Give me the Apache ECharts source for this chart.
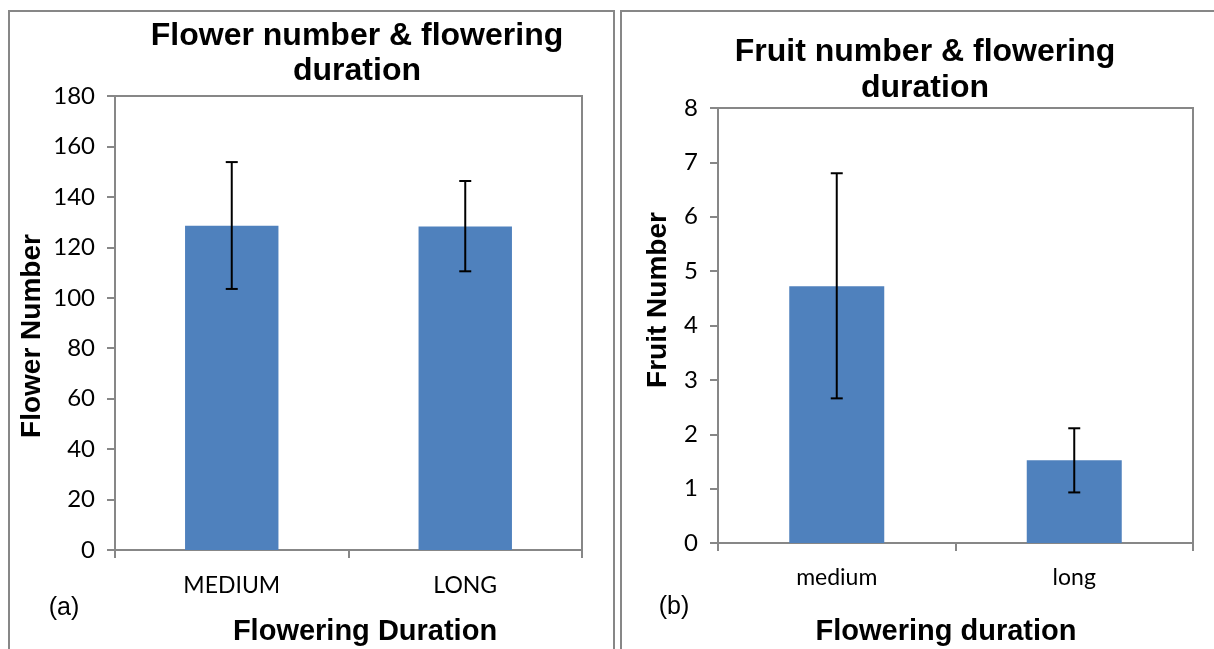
<!DOCTYPE html>
<html>
<head>
<meta charset="utf-8">
<script src="https://cdn.jsdelivr.net/npm/echarts@6/dist/echarts.min.js"></script>
<style>html,body{margin:0;padding:0;background:#fff}#c{width:1214px;height:649px}</style>
</head>
<body>
<div id="c"></div>
<script>
// ---- data ----
const flowerCategories = ['MEDIUM', 'LONG'];
const flowerMeans = [128.6, 128.3];
const flowerErrLow = [103.5, 110.5];
const flowerErrHigh = [153.8, 146.3];
const flowerTicks = { min: 0, max: 180, interval: 20 };

const fruitCategories = ['medium', 'long'];
const fruitMeans = [4.72, 1.52];
const fruitErrLow = [2.66, 0.93];
const fruitErrHigh = [6.80, 2.11];
const fruitTicks = { min: 0, max: 8, interval: 1 };

const titles = ['Flower number & flowering\nduration', 'Fruit number & flowering\nduration'];
const yNames = ['Flower Number', 'Fruit Number'];
const xNames = ['Flowering Duration', 'Flowering duration'];
const panelLabels = ['(a)', '(b)'];

// ---- styles ----
const AX = '#878787';
const BAR = '#4F81BD';
const TICK_FONT = 'Lato';
const BOLD_FONT = '"Liberation Sans", Arial, sans-serif';

function errSeries(gridIdx, low, high) {
  return {
    type: 'custom',
    xAxisIndex: gridIdx, yAxisIndex: gridIdx,
    silent: true,
    z: 5,
    data: low.map((l, i) => [i, l, high[i]]),
    renderItem: function (params, api) {
      const x = api.value(0);
      const lo = api.coord([x, api.value(1)]);
      const hi = api.coord([x, api.value(2)]);
      const cap = 6;
      const style = { stroke: '#000', lineWidth: 2, fill: null };
      return {
        type: 'group',
        children: [
          { type: 'line', shape: { x1: lo[0], y1: lo[1], x2: hi[0], y2: hi[1] }, style },
          { type: 'line', shape: { x1: hi[0] - cap, y1: hi[1], x2: hi[0] + cap, y2: hi[1] }, style },
          { type: 'line', shape: { x1: lo[0] - cap, y1: lo[1], x2: lo[0] + cap, y2: lo[1] }, style }
        ]
      };
    }
  };
}

function xAxisCfg(gridIdx, cats, margin) {
  return {
    type: 'category', gridIndex: gridIdx, data: cats,
    axisLine: { show: true, lineStyle: { color: AX, width: 2 } },
    axisTick: { show: true, length: 8, lineStyle: { color: AX, width: 2 } },
    axisLabel: { color: '#000', fontFamily: TICK_FONT, fontSize: 23, margin: margin },
    splitLine: { show: false }
  };
}
function yAxisCfg(gridIdx, t) {
  return {
    type: 'value', gridIndex: gridIdx, min: t.min, max: t.max, interval: t.interval,
    axisLine: { show: true, lineStyle: { color: AX, width: 2 } },
    axisTick: { show: true, length: 8, lineStyle: { color: AX, width: 2 } },
    axisLabel: { color: '#000', fontFamily: TICK_FONT, fontSize: 24, margin: 20 },
    splitLine: { show: false }
  };
}

const bold = (size) => ({ fontFamily: BOLD_FONT, fontWeight: 'bold', fontSize: size, fill: '#000' });

const chart = echarts.init(document.getElementById('c'), null, { renderer: 'canvas' });
chart.setOption({
  animation: false,
  backgroundColor: '#fff',
  title: [
    { text: titles[0], left: 352, top: 14, textAlign: 'center',
      textStyle: { fontFamily: BOLD_FONT, fontWeight: 'bold', fontSize: 32, lineHeight: 35, color: '#000' } },
    { text: titles[1], left: 920, top: 29, textAlign: 'center',
      textStyle: { fontFamily: BOLD_FONT, fontWeight: 'bold', fontSize: 32, lineHeight: 36, color: '#000' } }
  ],
  grid: [
    { left: 115, top: 96, width: 467, height: 454, show: true, borderColor: AX, borderWidth: 2, backgroundColor: 'transparent' },
    { left: 718, top: 108, width: 475, height: 435, show: true, borderColor: AX, borderWidth: 2, backgroundColor: 'transparent' }
  ],
  xAxis: [xAxisCfg(0, flowerCategories, 24), xAxisCfg(1, fruitCategories, 23)],
  yAxis: [yAxisCfg(0, flowerTicks), yAxisCfg(1, fruitTicks)],
  series: [
    { type: 'bar', xAxisIndex: 0, yAxisIndex: 0, data: flowerMeans, barWidth: '40%', itemStyle: { color: BAR } },
    { type: 'bar', xAxisIndex: 1, yAxisIndex: 1, data: fruitMeans, barWidth: '40%', itemStyle: { color: BAR } },
    errSeries(0, flowerErrLow, flowerErrHigh),
    errSeries(1, fruitErrLow, fruitErrHigh)
  ],
  graphic: [
    // panel frames
    { type: 'polyline', shape: { points: [[9, 660], [9, 11], [614, 11], [614, 660]] }, style: { stroke: AX, lineWidth: 2, fill: null }, silent: true },
    { type: 'polyline', shape: { points: [[621, 660], [621, 11], [1230, 11]] }, style: { stroke: AX, lineWidth: 2, fill: null }, silent: true },
    // axis names
    { type: 'text', x: 32, y: 336, rotation: Math.PI / 2,
      style: Object.assign({ text: yNames[0], align: 'center', verticalAlign: 'middle' }, bold(28)) },
    { type: 'text', x: 658, y: 300, rotation: Math.PI / 2,
      style: Object.assign({ text: yNames[1], align: 'center', verticalAlign: 'middle' }, bold(28)) },
    { type: 'text', x: 365, y: 632,
      style: Object.assign({ text: xNames[0], align: 'center', verticalAlign: 'middle' }, bold(29)) },
    { type: 'text', x: 946, y: 632,
      style: Object.assign({ text: xNames[1], align: 'center', verticalAlign: 'middle' }, bold(29)) },
    // panel labels
    { type: 'text', x: 64, y: 608,
      style: { text: panelLabels[0], align: 'center', verticalAlign: 'middle', fontFamily: BOLD_FONT, fontSize: 25, fill: '#000' } },
    { type: 'text', x: 674, y: 607,
      style: { text: panelLabels[1], align: 'center', verticalAlign: 'middle', fontFamily: BOLD_FONT, fontSize: 25, fill: '#000' } }
  ]
});
</script>
</body>
</html>
